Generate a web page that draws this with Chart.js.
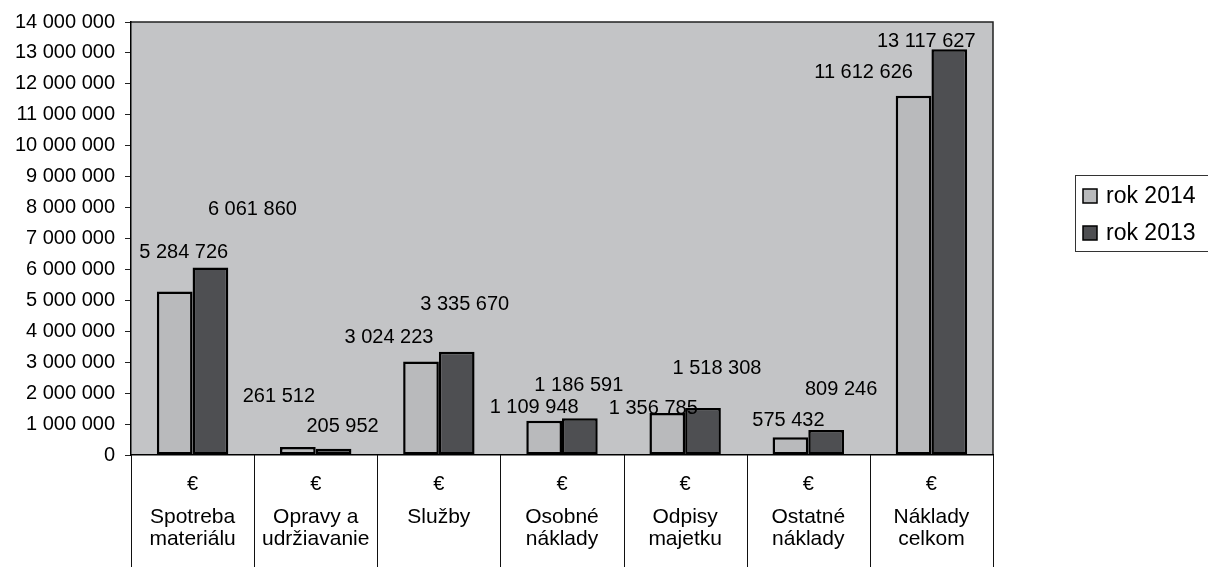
<!DOCTYPE html>
<html>
<head>
<meta charset="utf-8">
<script src="https://cdn.jsdelivr.net/npm/chart.js@4/dist/chart.umd.min.js"></script>
<style>
    html, body { margin: 0; padding: 0; background: #ffffff; }
    #wrap { width: 1208px; height: 567px; }
</style>
</head>
<body>
<div id="wrap"><canvas id="nakladyCanvas" width="1208" height="567"></canvas></div>
<script>
// kategórie nákladov
const categories = [
    ['Spotreba', 'materiálu'],
    ['Opravy a', 'udržiavanie'],
    ['Služby'],
    ['Osobné', 'náklady'],
    ['Odpisy', 'majetku'],
    ['Ostatné', 'náklady'],
    ['Náklady', 'celkom']
];
const unitLabel = '€';
const seriesNames = ['rok 2014', 'rok 2013'];
const values2014 = [5284726, 261512, 3024223, 1109948, 1356785, 575432, 11612626];
const values2013 = [6061860, 205952, 3335670, 1186591, 1518308, 809246, 13117627];
const yMin = 0;
const yMax = 14000000;
const yStep = 1000000;

// posun popiskov hodnot voci vrcholu stlpca (dx, dy) - tak ako su v povodnom grafe
const labelOffsets = [
    [[9, -39], [-19, -50], [-32, -24], [-10, -13], [-14, -5], [-2, -17], [-50, -23]],
    [[42, -58], [9, -22], [8, -47], [-1, -33], [14, -40], [15, -40], [-23, -8]]
];

const FONT = "'Liberation Sans', Arial, sans-serif";

function formatNum(v) {
    return String(v).replace(/\B(?=(\d{3})+(?!\d))/g, ' ');
}

const plotBackground = {
    id: 'plotBackground',
    beforeDraw(chart) {
        const { ctx, chartArea: a } = chart;
        ctx.save();
        ctx.fillStyle = '#c3c4c6';
        ctx.fillRect(a.left, a.top, a.right - a.left, a.bottom - a.top);
        ctx.strokeStyle = '#222222';
        ctx.lineWidth = 1.5;
        ctx.beginPath();
        ctx.moveTo(a.left, a.top);
        ctx.lineTo(a.right, a.top);
        ctx.lineTo(a.right, a.bottom);
        ctx.stroke();
        ctx.restore();
    }
};

const tableAndLabels = {
    id: 'tableAndLabels',
    afterDraw(chart) {
        const { ctx, chartArea: a } = chart;
        const xs = chart.scales.x;
        const h = chart.height;
        ctx.save();

        // zvisle deliace ciary pod osou
        ctx.strokeStyle = '#111111';
        ctx.lineWidth = 1;
        const step = (a.right - a.left) / categories.length;
        for (let i = 0; i <= categories.length; i++) {
            const x = Math.round(a.left + step * i) + 0.5;
            ctx.beginPath();
            ctx.moveTo(x, a.bottom);
            ctx.lineTo(x, h);
            ctx.stroke();
        }

        // symbol meny
        ctx.fillStyle = '#000000';
        ctx.font = '20px ' + FONT;
        ctx.textAlign = 'center';
        ctx.textBaseline = 'middle';
        categories.forEach((c, i) => {
            ctx.fillText(unitLabel, xs.getPixelForTick(i), a.bottom + 29);
        });

        // popisky hodnot
        ctx.font = '20px ' + FONT;
        chart.data.datasets.forEach((ds, di) => {
            const meta = chart.getDatasetMeta(di);
            meta.data.forEach((bar, i) => {
                const off = labelOffsets[di][i];
                ctx.fillText(formatNum(ds.data[i]), bar.x + off[0], bar.y + off[1]);
            });
        });

        // legenda
        const lx = 1075, ly = 175;
        ctx.strokeStyle = '#333333';
        ctx.lineWidth = 1;
        ctx.strokeRect(lx + 0.5, ly + 0.5, 160, 76);
        ctx.textAlign = 'left';
        ctx.font = '23px ' + FONT;
        chart.data.datasets.forEach((ds, di) => {
            const cy = ly + 21 + di * 37;
            ctx.fillStyle = ds.backgroundColor;
            ctx.fillRect(lx + 8, cy - 7, 14, 14);
            ctx.strokeStyle = '#000000';
            ctx.lineWidth = 1.5;
            ctx.strokeRect(lx + 8, cy - 7, 14, 14);
            ctx.fillStyle = '#000000';
            ctx.fillText(ds.label, lx + 31, cy + 1);
        });
        ctx.restore();
    }
};

const ctx = document.getElementById('nakladyCanvas').getContext('2d');
const chart = new Chart(ctx, {
    type: 'bar',
    data: {
        labels: categories,
        datasets: [{
            label: seriesNames[0],
            data: values2014,
            backgroundColor: '#b9babc',
            borderColor: '#000000',
            borderWidth: 2.5,
            borderSkipped: false,
            categoryPercentage: 0.58,
            barPercentage: 1.0
        }, {
            label: seriesNames[1],
            data: values2013,
            backgroundColor: '#4e4f52',
            borderColor: '#000000',
            borderWidth: 2.5,
            borderSkipped: false,
            categoryPercentage: 0.58,
            barPercentage: 1.0
        }]
    },
    options: {
        responsive: false,
        animation: false,
        layout: {
            padding: { top: 21, right: 215, bottom: 0, left: 0 }
        },
        scales: {
            x: {
                grid: { display: false },
                border: { display: true, color: '#000000', width: 1.5 },
                ticks: {
                    color: '#000000',
                    font: { family: FONT, size: 21, lineHeight: 1.05 },
                    padding: 43,
                    maxRotation: 0,
                    autoSkip: false
                },
                afterFit(scale) { scale.height = 112; }
            },
            y: {
                min: yMin,
                max: yMax,
                grid: {
                    drawOnChartArea: false,
                    drawTicks: true,
                    tickLength: 6,
                    color: '#222222'
                },
                border: { display: true, color: '#000000', width: 1.5 },
                ticks: {
                    stepSize: yStep,
                    color: '#000000',
                    font: { family: FONT, size: 20 },
                    padding: 10,
                    callback: v => formatNum(v)
                },
                afterFit(scale) { scale.width = 131; }
            }
        },
        plugins: {
            legend: { display: false },
            tooltip: { enabled: false }
        }
    },
    plugins: [plotBackground, tableAndLabels]
});
</script>
</body>
</html>
